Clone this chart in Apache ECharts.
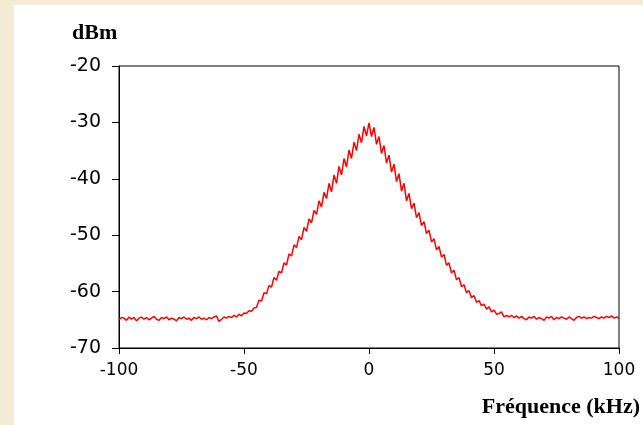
<!DOCTYPE html>
<html>
<head>
<meta charset="utf-8">
<script src="https://cdn.jsdelivr.net/npm/echarts@6/dist/echarts.min.js"></script>
<style>
html,body{margin:0;padding:0;background:#F5ECD6;}
#chart{width:643px;height:425px;}
</style>
</head>
<body>
<div id="chart"></div>
<script>
// Frequency axis (kHz): -100 .. 100 step 1
const freqStart = -100;
const freqStep = 1;
// Level in dBm, one value per kHz
const levelLeftFloor = [
  -65.0,-64.6,-64.7,-65.1,-64.5,-64.9,-64.6,-65.2,-64.7,-64.5,
  -64.9,-64.6,-65.0,-64.7,-64.4,-64.9,-65.1,-64.6,-64.8,-64.5,
  -65.0,-64.7,-64.9,-65.2,-64.6,-64.8,-64.5,-64.9,-64.7,-65.1,
  -64.6,-64.8,-64.5,-64.9,-64.7,-65.0,-64.6,-64.8,-64.5,-64.3,
  -65.3,-64.9,-64.5,-64.7,-64.4,-64.6,-64.2,-64.5,-64.0,-64.3,
  -63.8,-63.9,-63.4,-63.5,-62.9,-62.8
]; // -100 .. -45
const levelLeftSlope = [
  -61.5,-61.7,-60.2,-60.4,-58.9,-59.2,-57.5,-58.0,-56.4,-56.7,
  -54.9,-55.3,-53.3,-53.7,-51.7,-52.2,-50.2,-50.8,-48.6,-49.3,
  -47.1,-47.8,-45.6,-46.3,-43.9,-45.0,-42.4,-43.5,-40.8,-42.3,
  -39.3,-40.8,-37.8,-39.3,-36.4,-37.9,-34.9,-36.4,-33.5,-35.0,
  -32.1,-33.6,-30.7,-32.4
]; // -44 .. -1
const levelPeak = [-30.1]; // 0
const levelRightSlope = [
  -32.5,-30.9,-33.9,-32.5,-35.5,-34.1,-37.2,-35.8,-38.8,-37.4,
  -40.5,-39.1,-42.2,-40.8,-43.9,-42.6,-45.3,-44.3,-46.9,-46.0,
  -48.3,-47.6,-49.7,-49.1,-51.2,-50.6,-52.6,-52.0,-53.9,-53.4,
  -55.3,-54.9,-56.7,-56.2,-57.9,-57.5,-59.1,-58.8,-60.2,-59.8,
  -61.1,-60.7,-61.9,-61.6,-62.5,-62.2,-63.1,-62.7,-63.6,-63.3,
  -64.0,-63.9,-63.6,-64.5,-64.2
]; // 1 .. 55
const levelRightFloor = [
  -64.5,-64.2,-64.6,-64.3,-64.7,-64.4,-64.8,-65.0,-64.5,-64.7,
  -64.4,-64.9,-64.6,-64.8,-65.1,-64.5,-64.7,-64.4,-65.0,-64.6,
  -64.8,-64.5,-64.7,-64.9,-64.5,-64.8,-65.1,-64.6,-64.4,-64.7,
  -64.5,-64.8,-64.6,-64.7,-64.4,-64.6,-64.8,-64.5,-64.7,-64.4,
  -64.6,-64.3,-64.7,-64.5,-64.8
]; // 56 .. 100

const xTicks = [-100, -50, 0, 50, 100];
const yTicks = [-70, -60, -50, -40, -30, -20];
const yName = 'dBm';
const xName = 'Fréquence (kHz)';

const levels = [].concat(levelLeftFloor, levelLeftSlope, levelPeak, levelRightSlope, levelRightFloor);
const seriesData = levels.map((v, i) => [freqStart + i * freqStep, v]);

const chart = echarts.init(document.getElementById('chart'), null, {renderer: 'canvas'});
chart.setOption({
  backgroundColor: 'transparent',
  animation: false,
  graphic: [
    {type: 'rect', z: -10, silent: true, shape: {x: 14, y: 5, width: 629, height: 420}, style: {fill: '#ffffff'}},
    {type: 'text', left: 72, top: 22, style: {text: yName, font: 'bold 22px "Liberation Serif"', fill: '#000'}},
    {type: 'text', right: 3, top: 396, style: {text: xName, font: 'bold 22px "Liberation Serif"', fill: '#000'}}
  ],
  grid: {
    left: 119, right: 24, top: 66, bottom: 77,
    show: true, borderColor: '#000', borderWidth: 1, backgroundColor: '#fff',
    containLabel: false
  },
  xAxis: {
    type: 'value', min: xTicks[0], max: xTicks[xTicks.length - 1], interval: 50,
    axisLine: {onZero: false, lineStyle: {color: '#000', width: 1}},
    axisTick: {show: true, inside: false, length: 6, lineStyle: {color: '#000'}},
    splitLine: {show: false},
    axisLabel: {margin: 14, color: '#000', fontSize: 17, fontFamily: 'DejaVu Sans'}
  },
  yAxis: {
    type: 'value', min: yTicks[0], max: yTicks[yTicks.length - 1], interval: 10,
    axisLine: {show: true, onZero: false, lineStyle: {color: '#000', width: 1}},
    axisTick: {show: true, inside: false, length: 7, lineStyle: {color: '#000'}},
    splitLine: {show: false},
    axisLabel: {margin: 18, color: '#000', fontSize: 19, fontFamily: 'DejaVu Sans'}
  },
  series: [{
    type: 'line', data: seriesData, showSymbol: false, symbol: 'none',
    lineStyle: {color: '#ff0000', width: 1.5}, smooth: false
  }]
});
</script>
</body>
</html>
